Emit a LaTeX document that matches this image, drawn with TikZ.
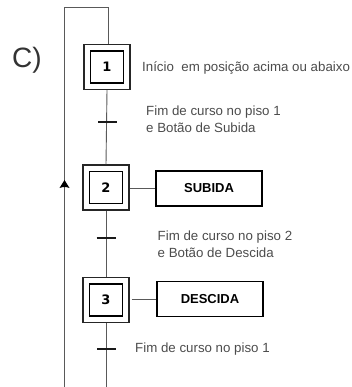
\documentclass[tikz,border=0pt]{standalone}
\usepackage{fontspec}
\setmainfont{Liberation Sans}
\newfontfamily\digitfont{DejaVu Sans}
\definecolor{txt}{gray}{0.3}
\definecolor{wire}{gray}{0.35}
\tikzset{
  x=1pt,y=-1pt,
  wirel/.style={draw=wire,line width=0.9pt},
  stepouter/.style={draw=black!85,line width=1.2pt,minimum width=46pt,minimum height=45pt,inner sep=0pt},
  stepinner/.style={draw=black,line width=1.4pt,minimum width=33pt,minimum height=32pt,inner sep=0pt,font=\digitfont\fontsize{13}{13}\selectfont\bfseries},
  actionbox/.style={draw=black,line width=1.1pt,minimum width=106pt,minimum height=35pt,inner sep=0pt,font=\fontsize{13}{13}\selectfont\bfseries},
  tick/.style={draw=black!90,line width=1.4pt},
  lab/.style={text=txt,anchor=west,align=left,inner sep=0pt,font=\fontsize{13.3}{17}\selectfont}
}
\begin{document}
\begin{tikzpicture}
\useasboundingbox (0,0) rectangle (352,387);
\node[text=black!80,inner sep=0pt,anchor=west,font=\fontsize{28}{28}\selectfont] (c) at (12,60) {C)};
\node[stepouter] (o1) at (107,67) {};
\node[stepinner] (s1) at (107,67) {1};
\node[stepouter] (o2) at (106,187.5) {};
\node[stepinner] (s2) at (106,187.5) {2};
\node[stepouter] (o3) at (106,300) {};
\node[stepinner] (s3) at (106,300) {3};
\node[actionbox] (a2) at (209,188.5) {SUBIDA};
\node[actionbox] (a3) at (210,299) {DESCIDA};
\coordinate (tl) at (64.5,7);
\coordinate (tr) at (108,7);
\coordinate (bl) at (64.5,387);
\coordinate (br) at (107,387);
\coordinate (ar) at (64.5,180);
\draw[wirel] (bl) -- (tl) -- (tr) -- (o1.north -| tr);
\draw[wirel] (o1.south) -- (o2.north);
\draw[wirel] (o2.south) -- (o3.north);
\draw[wirel] (o3.south) -- (o3.south |- br);
\draw[wirel] (o2.east |- a2.west) -- (a2.west);
\draw[wirel] ([xshift=2pt]o3.east |- a3.west) -- (a3.west);
\fill[black] (ar) -- ++(-5,8) -- ++(3.5,-1) -- ++(3,0) -- ++(3.5,1) -- cycle;
\coordinate (t1) at (107.5,122);
\coordinate (t2) at (106,238);
\coordinate (t3) at (106.5,349);
\draw[tick] ([xshift=-9.5pt]t1) -- ([xshift=9.5pt]t1);
\draw[tick] ([xshift=-9.5pt]t2) -- ([xshift=9.5pt]t2);
\draw[tick] ([xshift=-9.5pt]t3) -- ([xshift=9.5pt]t3);
\node[lab] (l1) at (142,68) {Início\ \ em posição acima ou abaixo};
\node[lab] (l2) at (146,119.5) {Fim de curso no piso 1\\e Botão de Subida};
\node[lab] (l3) at (157.5,244.5) {Fim de curso no piso 2\\e Botão de Descida};
\node[lab] (l4) at (135,349.5) {Fim de curso no piso 1};
\end{tikzpicture}
\end{document}
